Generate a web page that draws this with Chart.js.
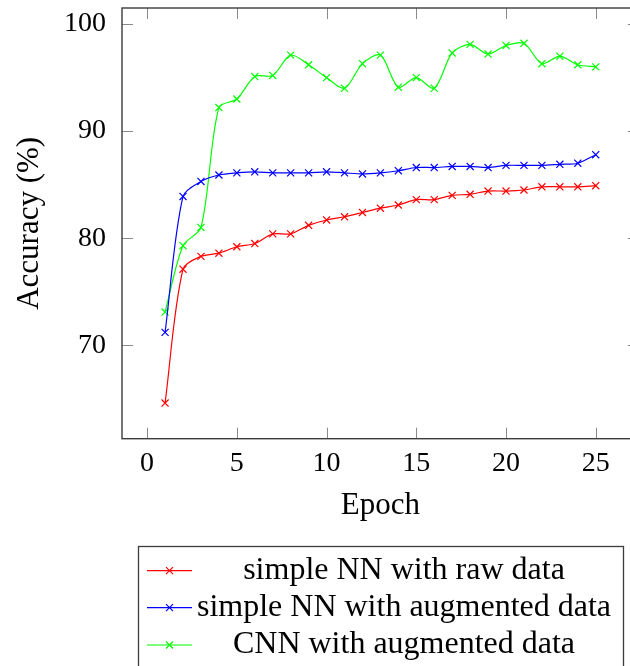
<!DOCTYPE html>
<html>
<head>
<meta charset="utf-8">
<script src="https://cdn.jsdelivr.net/npm/chart.js@4/dist/chart.umd.min.js"></script>
<style>
    html, body { margin: 0; padding: 0; background: #fff; overflow: hidden; }
    #accuracyChart { display: block; }
</style>
</head>
<body>
<canvas id="accuracyChart" width="645" height="666"></canvas>
<script>
// Epochs 1..25
const epochs = [1, 2, 3, 4, 5, 6, 7, 8, 9, 10, 11, 12, 13, 14, 15, 16, 17, 18, 19, 20, 21, 22, 23, 24, 25];

// Accuracy (%) per epoch
const rawNN = [64.6, 77.1, 78.3, 78.6, 79.2, 79.5, 80.4, 80.4, 81.2, 81.7, 82.0, 82.4, 82.8,
               83.1, 83.6, 83.6, 84.0, 84.1, 84.4, 84.4, 84.5, 84.8, 84.8, 84.8, 84.9];
const augmentedNN = [71.2, 83.9, 85.3, 85.9, 86.1, 86.2, 86.1, 86.1, 86.1, 86.2, 86.1, 86.0, 86.1,
                     86.3, 86.6, 86.6, 86.7, 86.7, 86.6, 86.8, 86.8, 86.8, 86.9, 87.0, 87.8];
const augmentedCNN = [73.1, 79.3, 81.0, 92.2, 93.0, 95.1, 95.2, 97.1, 96.2, 95.0, 94.0, 96.3, 97.1,
                      94.1, 95.0, 94.0, 97.3, 98.1, 97.2, 98.0, 98.2, 96.3, 97.0, 96.2, 96.0];

const seriesLabels = ['simple NN with raw data', 'simple NN with augmented data', 'CNN with augmented data'];
const seriesColors = ['#ff0000', '#0000ff', '#00ff00'];

const xTicks = [0, 5, 10, 15, 20, 25];
const yTicks = [70, 80, 90, 100];

const serif = "'Liberation Serif', 'Times New Roman', serif";

function toPoints(values) {
    return values.map((v, i) => ({ x: epochs[i], y: v }));
}

function makeDataset(idx, values) {
    return {
        label: seriesLabels[idx],
        data: toPoints(values),
        borderColor: seriesColors[idx],
        backgroundColor: seriesColors[idx],
        borderWidth: 1.2,
        tension: 0.3,
        pointStyle: 'crossRot',
        pointRadius: 5,
        pointBorderWidth: 1.2,
        fill: false
    };
}

// pgfplots-like frame with inward ticks on all four sides
const framePlugin = {
    id: 'frame',
    beforeDatasetsDraw(chart) {
        const { ctx, chartArea: a, scales } = chart;
        ctx.save();
        ctx.strokeStyle = '#8a8a8a';
        ctx.lineWidth = 1;
        const tl = 11;
        xTicks.forEach(v => {
            const px = Math.round(scales.x.getPixelForValue(v)) + 0.5;
            ctx.beginPath();
            ctx.moveTo(px, a.bottom); ctx.lineTo(px, a.bottom - tl);
            ctx.moveTo(px, a.top); ctx.lineTo(px, a.top + tl);
            ctx.stroke();
        });
        yTicks.forEach(v => {
            const py = Math.round(scales.y.getPixelForValue(v)) + 0.5;
            ctx.beginPath();
            ctx.moveTo(a.left, py); ctx.lineTo(a.left + tl, py);
            ctx.moveTo(a.right, py); ctx.lineTo(a.right - tl, py);
            ctx.stroke();
        });
        ctx.strokeStyle = '#3c3c3c';
        ctx.lineWidth = 1.4;
        ctx.strokeRect(a.left, a.top, a.right - a.left, a.bottom - a.top);
        ctx.restore();
    }
};

// Boxed legend below the axis, text centered
const boxLegendPlugin = {
    id: 'boxLegend',
    afterDraw(chart) {
        const { ctx } = chart;
        const box = { left: 138.5, top: 546.5, right: 623.5, bottom: 680 };
        const rowY = [570.7, 607.7, 645];
        ctx.save();
        ctx.strokeStyle = '#3c3c3c';
        ctx.lineWidth = 1.3;
        ctx.strokeRect(box.left, box.top, box.right - box.left, box.bottom - box.top);
        chart.data.datasets.forEach((ds, i) => {
            const y = rowY[i];
            ctx.strokeStyle = ds.borderColor;
            ctx.lineWidth = 1.2;
            ctx.beginPath();
            ctx.moveTo(147, y); ctx.lineTo(192, y);
            ctx.stroke();
            const r = 3.5;
            ctx.beginPath();
            ctx.moveTo(169.5 - r, y - r); ctx.lineTo(169.5 + r, y + r);
            ctx.moveTo(169.5 - r, y + r); ctx.lineTo(169.5 + r, y - r);
            ctx.stroke();
            ctx.fillStyle = '#000';
            ctx.font = '32px ' + serif;
            ctx.textAlign = 'center';
            ctx.textBaseline = 'middle';
            ctx.fillText(ds.label, 404, y);
        });
        ctx.restore();
    }
};

function initAccuracyChart() {
    const ctx = document.getElementById('accuracyChart');

    const chartConfig = {
        type: 'line',
        data: {
            datasets: [
                makeDataset(0, rawNN),
                makeDataset(1, augmentedNN),
                makeDataset(2, augmentedCNN)
            ]
        },
        options: {
            responsive: false,
            animation: false,
            layout: { padding: { top: 8, left: 0, right: 4.5, bottom: 0 } },
            plugins: {
                legend: { display: false },
                tooltip: { enabled: false }
            },
            scales: {
                x: {
                    type: 'linear',
                    min: -1.4,
                    max: 27.4,
                    afterBuildTicks: scale => { scale.ticks = xTicks.map(v => ({ value: v })); },
                    afterFit: scale => {
                        scale.height = 227.3;
                        scale.paddingLeft = 0;
                        scale.paddingRight = 0;
                    },
                    grid: { display: false },
                    border: { display: false },
                    ticks: {
                        color: '#000',
                        padding: 0,
                        maxRotation: 0,
                        font: { family: serif, size: 28 }
                    },
                    title: {
                        display: true,
                        text: 'Epoch',
                        color: '#000',
                        font: { family: serif, size: 31 },
                        padding: { top: 0, bottom: 142 }
                    }
                },
                y: {
                    min: 61.27,
                    max: 101.5,
                    afterBuildTicks: scale => { scale.ticks = yTicks.map(v => ({ value: v })); },
                    afterFit: scale => {
                        scale.width = 122;
                        scale.paddingTop = 0;
                        scale.paddingBottom = 0;
                    },
                    grid: { display: false },
                    border: { display: false },
                    ticks: {
                        color: '#000',
                        padding: 8,
                        font: { family: serif, size: 28 }
                    },
                    title: {
                        display: true,
                        text: 'Accuracy (%)',
                        color: '#000',
                        font: { family: serif, size: 31 },
                        padding: { top: 11, bottom: 0 }
                    }
                }
            }
        },
        plugins: [framePlugin, boxLegendPlugin]
    };

    return new Chart(ctx, chartConfig);
}

initAccuracyChart();
</script>
</body>
</html>
